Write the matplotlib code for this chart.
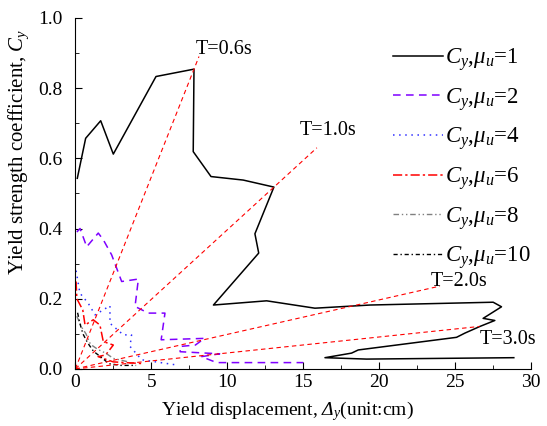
import matplotlib
matplotlib.use("Agg")
import matplotlib.pyplot as plt
from matplotlib.ticker import MultipleLocator, FormatStrFormatter

plt.rcParams["font.family"] = ["Liberation Serif", "DejaVu Serif"]
plt.rcParams["mathtext.fontset"] = "custom"
plt.rcParams["mathtext.rm"] = "Liberation Serif"
plt.rcParams["mathtext.it"] = "Liberation Serif:italic"
plt.rcParams["mathtext.cal"] = "Liberation Serif:italic"
plt.rcParams["mathtext.bf"] = "Liberation Serif:bold"

# Yield displacement (cm) and yield strength coefficient for each ductility level
mu1_x = [0.13, 0.68, 1.67, 2.5, 5.31, 7.81, 7.76, 8.93, 11.05, 13.07, 11.82, 12.07,
         9.09, 12.59, 15.77, 19.39, 27.5, 28.05, 26.84, 27.61, 26.63, 25.64, 25.09,
         18.62, 18.18, 16.43, 19.17, 28.86]
mu1_y = [0.543, 0.657, 0.707, 0.612, 0.833, 0.854, 0.619, 0.548, 0.538, 0.518, 0.385, 0.33,
         0.182, 0.194, 0.173, 0.182, 0.19, 0.177, 0.144, 0.138, 0.121, 0.102, 0.09,
         0.054, 0.045, 0.032, 0.028, 0.032]

mu2_x = [0.1, 0.31, 0.75, 1.51, 1.84, 2.39, 3.05, 4.15, 3.93, 4.8, 5.9, 5.65,
         8.5, 7.9, 6.9, 6.9, 9.5, 8.3, 9.3, 15.0]
mu2_y = [0.39, 0.40, 0.348, 0.387, 0.368, 0.325, 0.249, 0.256, 0.178, 0.159, 0.159, 0.083,
         0.087, 0.068, 0.064, 0.049, 0.043, 0.035, 0.018, 0.018]

mu4_x = [0.05, 0.3, 0.85, 1.3, 2.28, 2.28, 3.16, 3.7, 3.6, 4.37, 6.7]
mu4_y = [0.28, 0.216, 0.187, 0.154, 0.18, 0.13, 0.097, 0.097, 0.064, 0.026, 0.011]

mu6_x = [0.05, 0.1, 0.49, 0.64, 1.18, 1.62, 1.84, 2.5, 2.0, 1.5, 2.5, 4.5]
mu6_y = [0.249, 0.2, 0.168, 0.125, 0.14, 0.125, 0.078, 0.068, 0.04, 0.035, 0.02, 0.015]

mu8_x = [0.1, 0.4, 0.7, 1.0, 1.5, 2.0, 2.5, 3.5]
mu8_y = [0.15, 0.12, 0.1, 0.07, 0.055, 0.045, 0.03, 0.02]

mu10_x = [0.15, 0.3, 0.5, 0.8, 1.2, 1.8, 2.2, 3.0, 4.0]
mu10_y = [0.16, 0.13, 0.1, 0.075, 0.05, 0.03, 0.015, 0.01, 0.01]

# Constant-period lines from the origin
periods = ["T=0.6s", "T=1.0s", "T=2.0s", "T=3.0s"]
period_end_x = [8.14, 15.9, 24.0, 26.6]
period_end_y = [0.89, 0.63, 0.236, 0.121]
period_text_x = [7.9, 14.75, 23.4, 26.6]
period_text_y = [0.91, 0.68, 0.25, 0.085]

fig = plt.figure(figsize=(5.47, 4.26), dpi=100)
ax = fig.add_axes([0.1377, 0.134, 0.8333, 0.824])

series = [
    (mu1_x, mu1_y, "1", dict(color="black", linestyle="-", linewidth=1.1)),
    (mu2_x, mu2_y, "2", dict(color="#7F00FF", linestyle=(0, (5, 3.5)), linewidth=1.1)),
    (mu4_x, mu4_y, "4", dict(color="#3030FF", linestyle=(0, (1, 3)), linewidth=1.1)),
    (mu6_x, mu6_y, "6", dict(color="red", linestyle=(0, (6, 2, 1.5, 2)), linewidth=1.1)),
    (mu8_x, mu8_y, "8", dict(color="#808080", linestyle=(0, (4, 2, 1, 2, 1, 2)), linewidth=1.0)),
    (mu10_x, mu10_y, "10", dict(color="black", linestyle=(0, (3, 2, 1, 2)), linewidth=1.0)),
]
for xs, ys, mu, style in series:
    ax.plot(xs, ys, label=r"$C_y$,$\mu_u$=" + mu, **style)

for name, ex, ey, tx, ty in zip(periods, period_end_x, period_end_y, period_text_x, period_text_y):
    ax.plot([0, ex], [0, ey], color="red", linestyle=(0, (4, 3)), linewidth=0.8)
    ax.text(tx, ty, name, fontsize=14.5, ha="left", va="center")

ax.set_xlim(0, 30)
ax.set_ylim(0, 1.0)
ax.xaxis.set_major_locator(MultipleLocator(5))
ax.xaxis.set_minor_locator(MultipleLocator(2.5))
ax.yaxis.set_major_locator(MultipleLocator(0.2))
ax.yaxis.set_minor_locator(MultipleLocator(0.1))
ax.yaxis.set_major_formatter(FormatStrFormatter("%.1f"))
ax.tick_params(which="both", direction="in", labelsize=14)
ax.tick_params(which="major", length=5)
ax.tick_params(which="minor", length=3)
ax.tick_params(axis="y", which="major", pad=9)
ax.tick_params(axis="x", which="major", pad=4)
ax.spines["top"].set_visible(False)
ax.spines["right"].set_visible(False)

ax.set_xlabel(r"Yield displacement, $\mathcal{\Delta}_y$(unit:cm)", fontsize=14)
ax.set_ylabel(r"Yield strength coefficient, $C_y$", fontsize=15)
ax.xaxis.set_label_coords(0.466, -0.085)
ax.yaxis.set_label_coords(-0.097, 0.618)

ax.legend(loc="upper left", bbox_to_anchor=(0.677, 0.945), borderaxespad=0, frameon=False,
          fontsize=16.5, handlelength=2.2, handletextpad=0.05, labelspacing=0.56)

fig.savefig("out.png", dpi=100)
